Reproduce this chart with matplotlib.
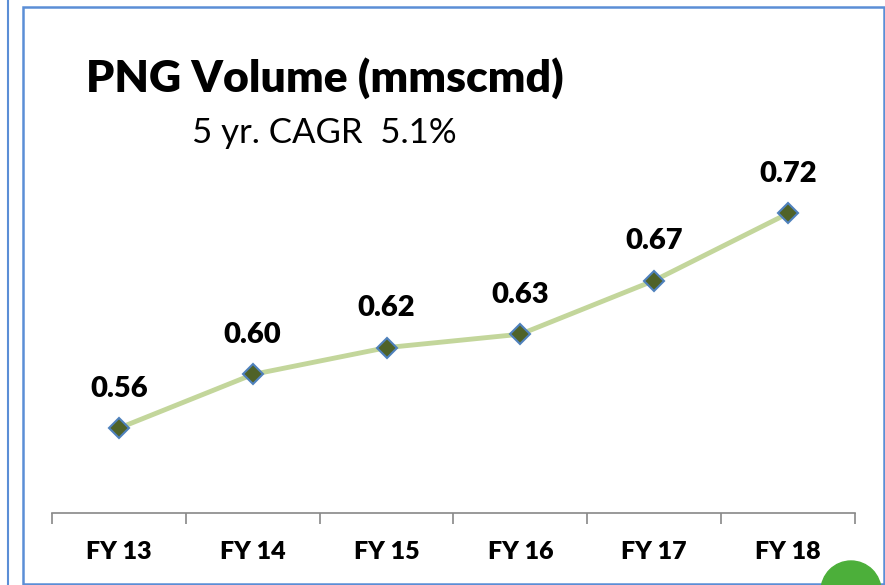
import matplotlib
matplotlib.use("Agg")
import matplotlib.pyplot as plt
from matplotlib.patches import Rectangle, Circle
from matplotlib.lines import Line2D

categories = ["FY 13", "FY 14", "FY 15", "FY 16", "FY 17", "FY 18"]
values = [0.56, 0.60, 0.62, 0.63, 0.67, 0.72]
labels = ["0.56", "0.60", "0.62", "0.63", "0.67", "0.72"]
title = "PNG Volume (mmscmd)"
subtitle = "5 yr. CAGR  5.1%"

W, H = 885, 585
fig = plt.figure(figsize=(W / 100, H / 100), dpi=100)
plt.rcParams['font.family'] = ['Lato', 'DejaVu Sans']

def fx(px):
    return px / W

def fy(py):
    return 1 - py / H

# frames
frame_col = "#5B8ED6"
fig.add_artist(Line2D([fx(7.5), fx(7.5)], [0, 1], color=frame_col, lw=1.5))
fig.add_artist(Rectangle((fx(23), fy(584)), fx(884) - fx(23), fy(7) - fy(584), fill=False,
                         edgecolor=frame_col, lw=1.8, transform=fig.transFigure))
# green circle at bottom right (pixel coordinates)
fig.add_artist(Circle((851, H - 591), 30, color="#4CAF3A", transform=None, clip_on=False))

left, right, bottom, top = 52, 855, 513, 106
ax = fig.add_axes([fx(left), fy(bottom), fx(right) - fx(left), fy(top) - fy(bottom)])
x = list(range(len(categories)))
ax.plot(x, values, color="#C3D69B", lw=3.5, zorder=2)
ax.plot(x, values, ls="none", marker="D", ms=10, mfc="#4F6228", mec="#4F81BD", mew=1.5, zorder=3)
for xi, v, lab in zip(x, values, labels):
    ax.annotate(lab, (xi, v), xytext=(0, 28.5), textcoords="offset points", ha="center",
                va="center", fontsize=21, fontweight="heavy", color="black")
ax.set_xlim(-0.5, len(categories) - 0.5)
ax.set_ylim(0.4968, 0.80)
ax.set_yticks([])
for s in ["top", "right", "left"]:
    ax.spines[s].set_visible(False)
ax.spines["bottom"].set_color("#888888")
ax.spines["bottom"].set_linewidth(1.2)
ax.set_xticks([i - 0.5 for i in range(len(categories) + 1)], minor=False)
ax.set_xticklabels([""] * (len(categories) + 1))
ax.tick_params(axis="x", which="major", length=8, color="#888888", width=1.2)
ax.set_xticks(x, minor=True)
ax.set_xticklabels(categories, minor=True, fontsize=18, fontweight="heavy")
ax.tick_params(axis="x", which="minor", length=0, pad=20)
ax.patch.set_alpha(0)

fig.text(fx(86), fy(78), title, fontsize=32, fontweight="heavy", ha="left", va="center")
fig.text(fx(192), fy(133), subtitle, fontsize=25, ha="left", va="center")

fig.savefig("out.png", dpi=100)
